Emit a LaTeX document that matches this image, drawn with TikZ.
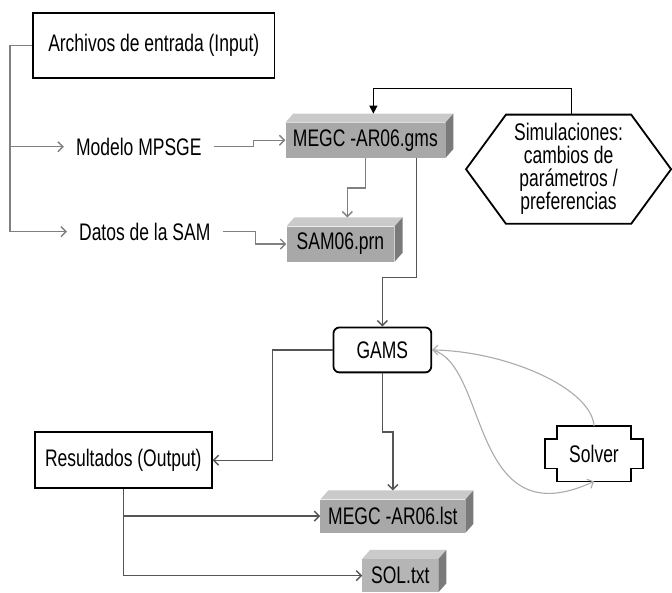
\documentclass[tikz,border=0pt]{standalone}
\usepackage{fontspec}
\setmainfont{Liberation Sans}[FakeStretch=0.73]
\usetikzlibrary{arrows.meta,calc}

\definecolor{facefront}{HTML}{A8A8A8}
\definecolor{facetop}{HTML}{CACACA}
\definecolor{faceside}{HTML}{7A7A7A}
\definecolor{linegray}{HTML}{808080}
\definecolor{linedark}{HTML}{555555}
\definecolor{linelight}{HTML}{ABABAB}

\begin{document}
\begin{tikzpicture}[
    x=1pt, y=-1pt,
    font=\fontsize{24}{23}\selectfont,
    box/.style={rectangle, draw, line width=1.8pt, text centered},
    plain/.style={inner xsep=12pt, inner ysep=2pt},
    datafile/.style={rectangle, fill=facefront, minimum height=35pt, inner sep=0pt},
    line/.style={draw=linegray, line width=1.4pt, -{Straight Barb[length=5pt,width=10pt]}},
    darkline/.style={line, draw=linedark},
    softline/.style={line, draw=linelight, line width=1.1pt}
]

\fill[white] (0,0) rectangle (672,588);

\node [box, minimum width=242pt, minimum height=65pt] (input) at (154,45.5) {Archivos de entrada (Input)};
\node [plain] (mpsge) at (139,147) {Modelo MPSGE};
\node [plain] (datos) at (145,232) {Datos de la SAM};

\node [datafile, minimum width=160pt] (gms) at (366,140.5) {MEGC -AR06.gms};
\node [datafile, minimum width=108pt] (samfile) at (341,244.5) {SAM06.prn};
\node [datafile, minimum width=145pt, minimum height=33pt] (lst) at (393.5,517) {MEGC -AR06.lst};
\node [datafile, minimum width=76pt, minimum height=33pt, fill=facefront!85] (sol) at (401,576.5) {SOL.txt};

% caras del bloque 3D
\foreach \f in {gms,samfile,lst,sol} {
  \fill[facetop] (\f.north west) -- ++(8,-9) -- ($(\f.north east)+(8,-9)$) -- (\f.north east) -- cycle;
  \fill[faceside] (\f.north east) -- ++(8,-9) -- ($(\f.south east)+(8,-9)$) -- (\f.south east) -- cycle;
}

\node [align=center, minimum width=205pt, minimum height=109pt] (sim) at (569.5,169.5) {Simulaciones:\\ cambios de\\ parámetros /\\ preferencias};
\draw[line width=1.8pt] (sim.west) -- ($(sim.north west)+(40,0)$) -- ($(sim.north east)+(-40,0)$) -- (sim.east)
  -- ($(sim.south east)+(-40,0)$) -- ($(sim.south west)+(40,0)$) -- cycle;

\node [box, rounded corners=6pt, minimum width=98pt, minimum height=45pt] (gams) at (383,350.5) {GAMS};
\node [box, minimum width=177pt, minimum height=56pt] (output) at (123.5,461) {Resultados (Output)};

\node [minimum width=98pt, minimum height=55pt] (solver) at (595,454.5) {Solver};
\draw[line width=1.8pt] ($(solver.north west)+(12,0)$) -- ($(solver.north east)+(-12,0)$) -- ++(0,13)
  -- ($(solver.north east)+(0,13)$) -- ($(solver.south east)+(0,-13)$) -- ++(-12,0)
  -- ($(solver.south east)+(-12,0)$) -- ($(solver.south west)+(12,0)$) -- ++(0,-13)
  -- ($(solver.south west)+(0,-13)$) -- ($(solver.north west)+(0,13)$) -- ++(12,0) -- cycle;

% entradas
\coordinate (trunk) at (10,45.5);
\path [line] (input.west) -- (trunk) |- (datos.west);
\path [line] (trunk |- mpsge.west) -- (mpsge.west);
\path [line] (mpsge.east) -- ++(40,0) |- (gms.west);
\path [line] (datos.east) -- ++(33,0) |- (samfile.west);
\path [line] (gms.south) -- ++(0,30) -| ($(samfile.north)+(7,-9)$);
\path [darkline] ($(gms.south)+(51,0)$) -- ++(0,120) -| (gams.north);
\path [line, draw=black, -{Triangle[length=8pt,width=8pt]}] ($(sim.north)+(3,0)$) -- ++(0,-26) -| ($(gms.north)+(8,-9)$);

% salidas
\path [darkline] (gams.west) -- ++(-60,0) |- (output.east);
\path [darkline] (gams.south) -- ++(0,59) -| ($(lst.north)+(0,-9)$);
\path [darkline] (output.south) |- (sol.west);
\path [darkline] (output.south |- lst.west) -- (lst.west);

% solver
\path [softline] (solver.north) .. controls (593,390) and (510,352) .. (gams.east);
\path [softline] (gams.east) .. controls (490,365) and (470,540) .. (solver.south);

\end{tikzpicture}
\end{document}
